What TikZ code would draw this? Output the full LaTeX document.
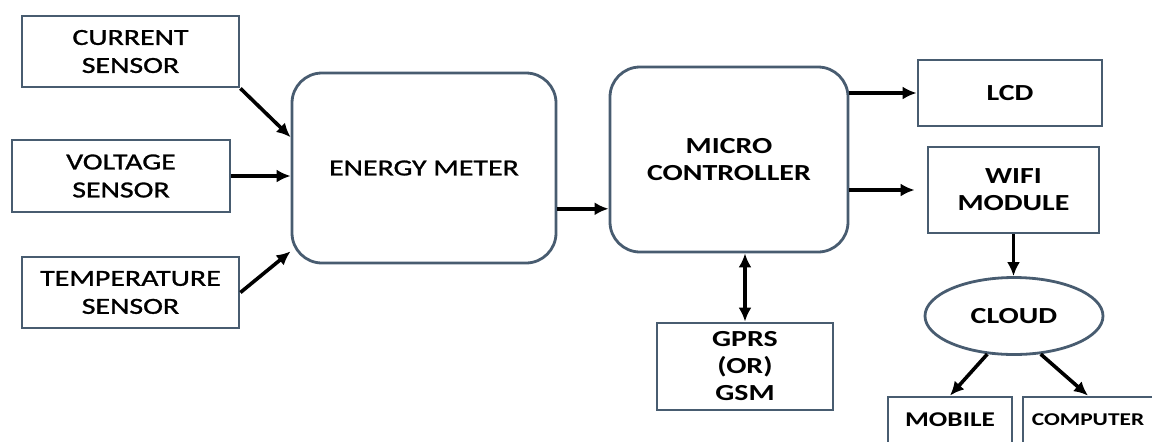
\documentclass[tikz,border=0pt]{standalone}
\usepackage{fontspec}
\setmainfont{Carlito}[FakeStretch=1.3]
\newfontfamily\medfont{Carlito}[FakeStretch=1.3,FakeBold=1.2]
\usetikzlibrary{shapes.geometric,arrows.meta}
\definecolor{boxline}{RGB}{72,92,112}
\tikzset{
  blk/.style={draw=boxline, line width=1.4pt, align=center, inner sep=0pt,
    font=\fontsize{11.5}{14}\selectfont\medfont},
  bld/.style={font=\fontsize{11.5}{13.5}\selectfont\bfseries},
  rblk/.style={blk, rounded corners=15pt},
  link/.style={line width=1.8pt, >={Latex[length=7pt,width=6.5pt]}, ->},
}
\begin{document}
\begin{tikzpicture}[x=0.5pt,y=-0.5pt]
  \useasboundingbox (0,0) rectangle (1152,441);
  \clip (0,0) rectangle (1152,441);
  % sensors
  \node[blk, minimum width=108.5pt, minimum height=35.5pt] (cur) at (130.5,51.5) {CURRENT\\SENSOR};
  \node[blk, minimum width=109pt, minimum height=36pt] (vol) at (121,176) {VOLTAGE\\SENSOR};
  \node[blk, minimum width=108.5pt, minimum height=35.5pt] (temp) at (130.5,292.5) {TEMPERATURE\\SENSOR};
  % main blocks
  \node[rblk, minimum width=132pt, minimum height=95pt] (em) at (424,168) {ENERGY METER};
  \node[rblk, bld, minimum width=119pt, minimum height=92.5pt] (mc) at (729,159.5) {MICRO\\CONTROLLER};
  \node[blk, bld, minimum width=88pt, minimum height=43.5pt] (gprs) at (745,366.5) {GPRS\\(OR)\\GSM};
  % outputs
  \node[blk, bld, minimum width=92pt, minimum height=33pt] (lcd) at (1010,93) {LCD};
  \node[blk, bld, minimum width=85.5pt, minimum height=43pt] (wifi) at (1013.5,190) {WIFI\\MODULE};
  \node[blk, bld, ellipse, minimum width=89pt, minimum height=38.5pt] (cloud) at (1014,316) {CLOUD};
  \node[blk, minimum width=62pt, minimum height=23pt, font=\fontsize{10.5}{12}\selectfont\bfseries] (mob) at (950,420) {MOBILE};
  \node[blk, minimum width=65pt, minimum height=23pt, font=\fontsize{9}{10.5}\selectfont\bfseries] (comp) at (1088,420) {COMPUTER};
  % connections
  \draw[link] (cur.south east) -- (em.167);
  \draw[link] (vol.east) -- (vol.east -| em.west);
  \draw[link] (temp.east) -- (em.212);
  \draw[link] (em.343) -- (em.343 -| mc.west);
  \draw[link] (mc.east |- lcd.west) -- (lcd.west);
  \draw[link, shorten >=6pt] (mc.east |- wifi.west) -- (wifi.west);
  \draw[link, <->] (mc.south -| gprs.north) -- (gprs.north);
  \draw[link] (wifi.south) -- (wifi.south |- cloud.north);
  \draw[link] (cloud.235) -- (mob.north);
  \draw[link] (cloud.305) -- (comp.north);
\end{tikzpicture}
\end{document}
